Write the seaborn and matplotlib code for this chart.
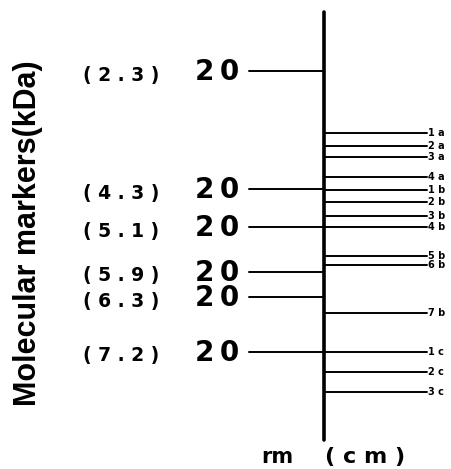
import pandas as pd
import matplotlib.pyplot as plt
import seaborn as sns

# marker bands: rm value and position down the gel
marker_rm = ["2.3", "4.3", "5.1", "5.9", "6.3", "7.2"]
marker_kda = ["20", "20", "20", "20", "20", "20"]
marker_pos = [71, 189, 227, 272, 297, 352]

# sample bands
band_labels = ["1 a", "2 a", "3 a", "4 a", "1 b", "2 b", "3 b", "4 b",
               "5 b", "6 b", "7 b", "1 c", "2 c", "3 c"]
band_pos = [133, 146, 157, 177, 190, 202, 216, 227, 256, 265, 313, 352, 372, 392]

sns.set_style("white")
plt.rcParams['font.family'] = ['DejaVu Sans']
plt.rcParams['text.color'] = 'black'

fig = plt.figure(figsize=(4.51, 4.69), dpi=100)
ax = fig.add_axes([0, 0, 1, 1])

# build segments as long-form table
rows = []
for i, p in enumerate(marker_pos):
    rows.append({"x": 249, "y": p, "band": f"m{i}"})
    rows.append({"x": 323, "y": p, "band": f"m{i}"})
for i, p in enumerate(band_pos):
    rows.append({"x": 325, "y": p, "band": f"s{i}"})
    rows.append({"x": 427, "y": p, "band": f"s{i}"})
seg = pd.DataFrame(rows)

sns.lineplot(data=seg, x="x", y="y", units="band", estimator=None,
             color="black", lw=1.4, ax=ax, legend=False, sort=False)

# main axis line
axis_df = pd.DataFrame({"x": [323.5, 323.5], "y": [12, 440]})
sns.lineplot(data=axis_df, x="x", y="y", color="black", lw=2.6, ax=ax,
             estimator=None, sort=False)

for rm, kda, p in zip(marker_rm, marker_kda, marker_pos):
    ax.text(239, p + 1, kda[0] + "\u2009" + kda[1], ha="right", va="center",
            fontsize=20, fontweight="heavy", color="black")
    ax.text(83, p + 4, "( " + " . ".join(rm.split(".")) + " )", ha="left",
            va="center", fontsize=13.5, fontweight="heavy", color="black")

for lab, p in zip(band_labels, band_pos):
    ax.text(428, p, lab, ha="left", va="center", fontsize=7,
            fontweight="heavy", color="black")

ax.text(28, 233, "Molecular markers(kDa)", rotation=90, ha="center",
        va="center", fontsize=22, fontweight="heavy", color="black",
        family=["Liberation Sans", "DejaVu Sans"])
ax.text(277, 457, "rm", ha="center", va="center", fontsize=15,
        fontweight="heavy", color="black")
ax.text(365, 457, "( c m )", ha="center", va="center", fontsize=16,
        fontweight="heavy", color="black")

ax.set_xlim(0, 451)
ax.set_ylim(469, 0)
ax.set_axis_off()

fig.savefig("out.png", dpi=100)
